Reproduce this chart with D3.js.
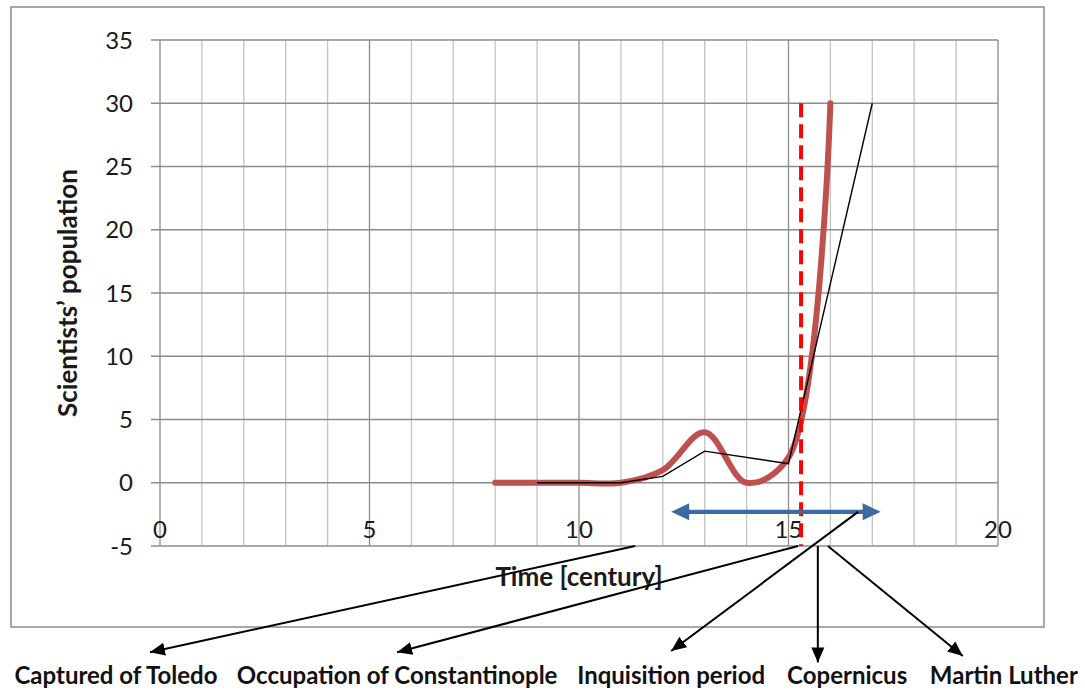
<!DOCTYPE html>
<meta charset="utf-8">
<style>
    body { margin: 0; background: #fff; }
    svg { display: block; font-family: Lato, "Open Sans", sans-serif; }
    .grid-minor { stroke: #c4c4c4; stroke-width: 1.3; }
    .grid-major { stroke: #8c8c8c; stroke-width: 1.3; }
    .tick-label { font-size: 24px; fill: #1a1a1a; }
    .axis-title { font-size: 26px; font-weight: bold; fill: #1a1a1a; }
    .event-label { font-size: 24px; font-weight: bold; fill: #111; }
</style>

<body>
    <svg width="1085" height="690"></svg>
    <script src="https://d3js.org/d3.v7.min.js"></script>
    <script>
        // ---- data ----
        var centuryTicks = [0, 5, 10, 15, 20];
        var populationTicks = [-5, 0, 5, 10, 15, 20, 25, 30, 35];

        // smoothed (red) series
        var smoothCentury = [8, 9, 10, 11, 12, 13, 14, 15, 16];
        var smoothPopulation = [0, 0, 0, 0, 1, 4, 0, 2, 30];

        // straight (black) series
        var lineCentury = [9, 10, 11, 12, 13, 15, 17];
        var linePopulation = [0, 0, 0, 0.5, 2.5, 1.5, 30];

        // red dashed marker and blue period arrow
        var markerCentury = 15.3;
        var markerRange = [-5, 30];
        var spanCentury = [12.2, 17.2];
        var spanLevel = -2.3;

        // annotation arrows (in chart units)
        var events = ["Captured of Toledo", "Occupation of Constantinople", "Inquisition period", "Copernicus", "Martin Luther"];
        var eventFrom = [[11.34, -5], [15.23, -5], [16.66, -2.3], [15.7, -5], [15.94, -5]];
        var eventTo = [[-0.24, -13.4], [5.66, -13.4], [12.2, -13.3], [15.7, -14.2], [19.16, -13.7]];
        var eventLabelX = [-1.05, 5.66, 12.2, 16.4, 20.14];
        var eventLabelY = -15.9;

        var svg = d3.select("svg"),
            frame = { left: 11, top: 7, right: 1044, bottom: 627 },
            margin = { top: 40, left: 160, right: 87, bottom: 144 },
            width = +svg.attr("width") - margin.left - margin.right,
            height = +svg.attr("height") - margin.top - margin.bottom;

        var x = d3.scaleLinear().domain([0, 20]).range([margin.left, margin.left + width]);
        var y = d3.scaleLinear().domain([-5, 35]).range([margin.top + height, margin.top]);

        // outer chart frame
        svg.append("rect")
            .attr("x", frame.left)
            .attr("y", frame.top)
            .attr("width", frame.right - frame.left)
            .attr("height", frame.bottom - frame.top)
            .attr("fill", "none")
            .attr("stroke", "#8c8c8c")
            .attr("stroke-width", 1.5);

        var defs = svg.append("defs");
        defs.append("marker")
            .attr("id", "head-black")
            .attr("viewBox", "-15 -7 16 14")
            .attr("refX", 0).attr("refY", 0)
            .attr("markerWidth", 16).attr("markerHeight", 14)
            .attr("markerUnits", "userSpaceOnUse")
            .attr("orient", "auto")
            .append("path")
            .attr("d", "M0,0L-15,-6.5L-15,6.5Z")
            .attr("fill", "#000");
        // blue head: tip sits 10px beyond the line end
        defs.append("marker")
            .attr("id", "head-blue")
            .attr("viewBox", "-10 -10 22 20")
            .attr("refX", 0).attr("refY", 0)
            .attr("markerWidth", 22).attr("markerHeight", 20)
            .attr("markerUnits", "userSpaceOnUse")
            .attr("orient", "auto-start-reverse")
            .append("path")
            .attr("d", "M10,0L-8,-8.5L-8,8.5Z")
            .attr("fill", "#3d6aa0");

        // grid: vertical every century, horizontal every 5
        var grid = svg.append("g");
        grid.selectAll(".v")
            .data(d3.range(0, 21))
            .enter().append("line")
            .attr("class", function (d) { return d % 5 === 0 ? "grid-major" : "grid-minor"; })
            .attr("x1", function (d) { return x(d); })
            .attr("x2", function (d) { return x(d); })
            .attr("y1", y(35))
            .attr("y2", y(-5));
        grid.selectAll(".h")
            .data(populationTicks)
            .enter().append("line")
            .attr("class", "grid-major")
            .attr("x1", x(0) - 9)
            .attr("x2", x(20))
            .attr("y1", function (d) { return y(d); })
            .attr("y2", function (d) { return y(d); });

        svg.append("g").selectAll("text")
            .data(populationTicks)
            .enter().append("text")
            .attr("class", "tick-label")
            .attr("text-anchor", "end")
            .attr("x", x(0) - 27)
            .attr("y", function (d) { return y(d); })
            .attr("dy", "0.36em")
            .text(function (d) { return d; });

        svg.append("g").selectAll("text")
            .data(centuryTicks)
            .enter().append("text")
            .attr("class", "tick-label")
            .attr("text-anchor", "middle")
            .attr("x", function (d) { return x(d); })
            .attr("y", y(-5) - 8)
            .text(function (d) { return d; });

        // axis titles
        svg.append("text")
            .attr("class", "axis-title")
            .attr("text-anchor", "middle")
            .attr("transform", "translate(" + (x(0) - 83) + "," + y(15) + ") rotate(-90)")
            .text("Scientists\u2019 population");
        svg.append("text")
            .attr("class", "axis-title")
            .attr("text-anchor", "middle")
            .attr("x", x(10))
            .attr("y", y(-5) + 40)
            .text("Time [century]");

        // series
        var smoothData = smoothCentury.map(function (c, i) { return [c, smoothPopulation[i]]; });
        var lineData = lineCentury.map(function (c, i) { return [c, linePopulation[i]]; });

        var straight = d3.line()
            .x(function (d) { return x(d[0]); })
            .y(function (d) { return y(d[1]); });
        var smooth = d3.line()
            .curve(d3.curveCatmullRom.alpha(0.5))
            .x(function (d) { return x(d[0]); })
            .y(function (d) { return y(d[1]); });

        svg.append("path")
            .datum(smoothData)
            .attr("d", smooth)
            .attr("fill", "none")
            .attr("stroke", "#c0504d")
            .attr("stroke-width", 6)
            .attr("stroke-linecap", "round")
            .attr("stroke-linejoin", "round");

        svg.append("path")
            .datum(lineData)
            .attr("d", straight)
            .attr("fill", "none")
            .attr("stroke", "#000")
            .attr("stroke-width", 1.4);

        // red dashed marker line
        svg.append("line")
            .attr("x1", x(markerCentury)).attr("x2", x(markerCentury))
            .attr("y1", y(markerRange[1])).attr("y2", y(markerRange[0]))
            .attr("stroke", "#ff0000")
            .attr("stroke-width", 4)
            .attr("stroke-dasharray", "14 7");

        // blue double arrow
        svg.append("line")
            .attr("x1", x(spanCentury[0]) + 10).attr("x2", x(spanCentury[1]) - 10)
            .attr("y1", y(spanLevel)).attr("y2", y(spanLevel))
            .attr("stroke", "#3d6aa0")
            .attr("stroke-width", 4.3)
            .attr("marker-start", "url(#head-blue)")
            .attr("marker-end", "url(#head-blue)");

        // annotation arrows
        svg.append("g").selectAll("line")
            .data(events)
            .enter().append("line")
            .attr("x1", function (d, i) { return x(eventFrom[i][0]); })
            .attr("y1", function (d, i) { return y(eventFrom[i][1]); })
            .attr("x2", function (d, i) { return x(eventTo[i][0]); })
            .attr("y2", function (d, i) { return y(eventTo[i][1]); })
            .attr("stroke", "#000")
            .attr("stroke-width", 2)
            .attr("marker-end", "url(#head-black)");

        svg.append("g").selectAll("text")
            .data(events)
            .enter().append("text")
            .attr("class", "event-label")
            .attr("text-anchor", "middle")
            .attr("x", function (d, i) { return x(eventLabelX[i]); })
            .attr("y", y(eventLabelY))
            .text(function (d) { return d; });
    </script>
</body>
